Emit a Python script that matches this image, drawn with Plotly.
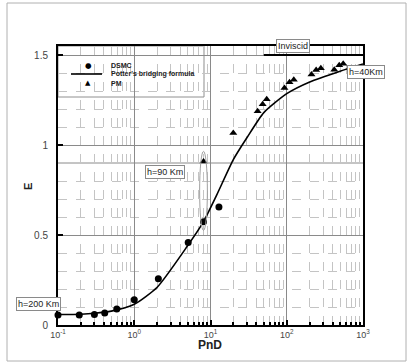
import plotly.graph_objects as go

# ---- data ----
dsmc_x = [0.1, 0.19, 0.3, 0.41, 0.59, 1.0, 2.07, 5.1, 8.1, 12.9]
dsmc_y = [0.055, 0.055, 0.059, 0.067, 0.089, 0.14, 0.257, 0.459, 0.574, 0.655]

pm_x = [8.1, 19.9, 41.5, 48.3, 54.6, 93.3, 108.7, 123.7, 211, 243, 280, 420, 488, 550]
pm_y = [0.909, 1.067, 1.187, 1.226, 1.254, 1.317, 1.348, 1.363, 1.392, 1.417, 1.426, 1.418, 1.443, 1.452]

potter_x = [0.1, 0.2, 0.3, 0.5, 1.0, 2.0, 5.0, 8.0, 12, 20, 30, 50, 100, 200, 500, 1000]
potter_y = [0.058, 0.06, 0.065, 0.077, 0.115, 0.21, 0.44, 0.57, 0.72, 0.92, 1.04, 1.18, 1.285, 1.35, 1.41, 1.45]

inviscid_x = [50, 1000]
inviscid_y = [1.5, 1.5]

xtick_vals = [0.1, 1, 10, 100, 1000]
xtick_text = ["10<sup>-1</sup>", "10<sup>0</sup>", "10<sup>1</sup>", "10<sup>2</sup>", "10<sup>3</sup>"]
x_minor_vals = [m * d for d in [0.1, 1, 10, 100] for m in range(2, 10)]
ytick_vals = [0, 0.5, 1, 1.5]
ytick_text = ["0", "0.5", "1", "1.5"]
y_minor_vals = [0.1, 0.2, 0.3, 0.4, 0.6, 0.7, 0.8, 0.9, 1.1, 1.2, 1.3, 1.4]

FONT = "Liberation Sans, Arial, sans-serif"

fig = go.Figure()
fig.add_trace(go.Scatter(x=inviscid_x, y=inviscid_y, mode="lines",
                         line=dict(color="black", width=2.2), showlegend=False, hoverinfo="skip"))
fig.add_trace(go.Scatter(x=potter_x, y=potter_y, mode="lines", name="Potter's bridging formula",
                         line=dict(color="black", width=1.6, shape="spline", smoothing=0.6),
                         showlegend=False))
fig.add_trace(go.Scatter(x=dsmc_x, y=dsmc_y, mode="markers", name="DSMC",
                         marker=dict(symbol="circle", size=7, color="black"), showlegend=False,
                         cliponaxis=False))
fig.add_trace(go.Scatter(x=pm_x, y=pm_y, mode="markers", name="PM",
                         marker=dict(symbol="triangle-up", size=7, color="black"), showlegend=False))

W, H = 407, 362
L, R, T, B = 58, 363, 46, 325
def px(xp):
    return (xp - L) / (R - L)
def py(yp):
    return (B - yp) / (B - T)

shapes = []
# outer frame
shapes.append(dict(type="rect", xref="paper", yref="paper",
                   x0=px(7), x1=px(406), y0=py(361), y1=py(3),
                   line=dict(color="#b0b0b0", width=1), layer="below"))
# extra solid grid line at 0.9
shapes.append(dict(type="line", xref="paper", yref="y", x0=0, x1=1, y0=0.9, y1=0.9,
                   line=dict(color="#8a8a8a", width=1), layer="below"))
# legend box
shapes.append(dict(type="rect", xref="paper", yref="paper",
                   x0=0, x1=px(204), y0=py(97), y1=1,
                   fillcolor="white", line=dict(color="#909090", width=1), layer="between"))
# legend line sample
shapes.append(dict(type="line", xref="paper", yref="paper",
                   x0=px(71), x1=px(102), y0=py(74), y1=py(74),
                   line=dict(color="black", width=1.6), layer="above"))
# ellipse around h=90 km points
shapes.append(dict(type="circle", xref="x", yref="y",
                   x0=7.2, x1=9.1, y0=0.525, y1=0.965,
                   line=dict(color="#a0a0a0", width=1), layer="above"))

annotations = []
def note(text, x, y, size, **kw):
    d = dict(text=text, x=x, y=y, xref="paper", yref="paper", showarrow=False,
             xanchor="center", yanchor="middle",
             font=dict(family=kw.pop("family", FONT), size=size, color=kw.pop("color", "#222")))
    d.update(kw)
    annotations.append(d)

def box(text, x, y, size=9):
    note(text, x, y, size, bgcolor="white", bordercolor="#8a8a8a", borderwidth=1, borderpad=1)

box("Inviscid", px(293), py(46))
box("h=40Km", px(366), py(72))
box("h=90 Km", px(165), py(172))
box("h=200 Km", px(38), py(304))

# legend symbols and text
note("●", px(88), py(65), 7.5, family="DejaVu Sans", color="black")
note("▲", px(88), py(83), 7, family="DejaVu Sans", color="black")
for t, yy in [("DSMC", 65), ("Potter's bridging formula", 74), ("PM", 83)]:
    note("<b>%s</b>" % t, px(109), py(yy), 7, xanchor="left")

# axis titles
note("<b>PnD</b>", px(210), py(345), 12)
note("<b>E</b>", px(28), py(187), 11, textangle=-90)

fig.update_layout(
    width=W, height=H,
    margin=dict(l=L, r=W - R, t=T, b=H - B),
    paper_bgcolor="white", plot_bgcolor="white",
    showlegend=False,
    shapes=shapes, annotations=annotations,
    font=dict(family=FONT, size=10, color="#333"),
)
fig.update_xaxes(type="log", range=[-1, 3], tickvals=xtick_vals, ticktext=xtick_text,
                 ticks="inside", ticklen=5, tickcolor="black", tickwidth=1.5,
                 showline=True, linecolor="black", linewidth=2, mirror=True,
                 showgrid=True, gridcolor="#8a8a8a", gridwidth=1, zeroline=False,
                 ticklabelstandoff=0,
                 tickfont=dict(size=9, color="#444"),
                 minor=dict(tickmode="array", tickvals=x_minor_vals, ticks="inside", ticklen=3,
                            tickcolor="black", showgrid=True,
                            gridcolor="#c4c4c4", griddash="dash", gridwidth=1))
fig.update_yaxes(range=[0, 1.55], tickvals=ytick_vals, ticktext=ytick_text,
                 ticks="inside", ticklen=5, tickcolor="black", tickwidth=1.5,
                 showline=True, linecolor="black", linewidth=2, mirror=True,
                 showgrid=True, gridcolor="#8a8a8a", gridwidth=1, zeroline=False,
                 ticklabelstandoff=6,
                 tickfont=dict(size=10, color="#444"),
                 minor=dict(tickmode="array", tickvals=y_minor_vals, ticks="", showgrid=True,
                            gridcolor="#c4c4c4", griddash="dash", gridwidth=1))

fig.write_html("out.html")
